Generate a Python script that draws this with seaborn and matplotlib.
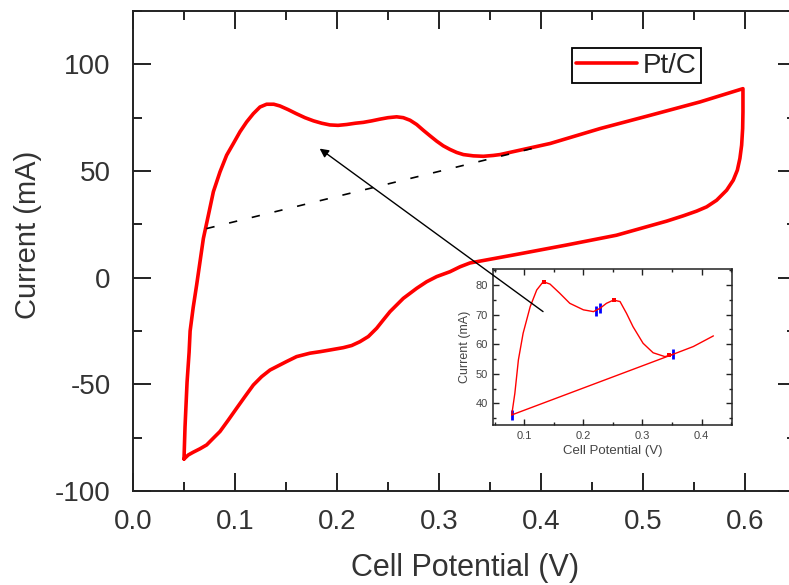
import matplotlib
matplotlib.use("Agg")
import matplotlib.pyplot as plt
import numpy as np
import pandas as pd
import seaborn as sns
from matplotlib.ticker import MultipleLocator, FormatStrFormatter

# ---- main cyclic voltammogram (Pt/C) ----
forward_x = [0.050, 0.051, 0.053, 0.055, 0.056, 0.059, 0.0624, 0.0657, 0.0690, 0.0739,
             0.0788, 0.0853, 0.0918, 0.0984, 0.1049, 0.1114, 0.118, 0.1245, 0.131, 0.138,
             0.144, 0.152, 0.160, 0.1686, 0.177, 0.185, 0.193, 0.201, 0.2095, 0.218,
             0.2258, 0.234, 0.242, 0.250, 0.2585, 0.265, 0.2716, 0.2781, 0.2846, 0.2912,
             0.2977, 0.3042, 0.3108, 0.3173, 0.3239, 0.3337, 0.3435, 0.3533, 0.3598, 0.409,
             0.458, 0.507, 0.556, 0.598]
forward_y = [-85, -70, -49, -35, -25, -14, -3.4, 7.5, 18.4, 29.3,
             40.3, 49.6, 57.4, 62.9, 68.4, 73.0, 76.9, 80.0, 81.3, 81.3,
             80.5, 78.8, 76.9, 75.0, 73.5, 72.4, 71.6, 71.4, 71.8, 72.4,
             72.8, 73.5, 74.3, 75.0, 75.4, 75.0, 73.8, 71.8, 69.1, 66.5,
             64.0, 61.8, 60.1, 58.7, 57.7, 57.1, 56.9, 57.3, 57.7, 62.9,
             69.9, 76.1, 82.4, 88.6]
reverse_x = [0.598, 0.5977, 0.5967, 0.595, 0.5925, 0.5885, 0.582, 0.5722, 0.5624, 0.5526,
             0.5395, 0.5232, 0.474, 0.425, 0.376, 0.3304, 0.3206, 0.3108, 0.2977,
             0.2879, 0.2781, 0.2650, 0.2585, 0.2520, 0.2454, 0.2389, 0.2307, 0.2225, 0.2144,
             0.2062, 0.1931, 0.1833, 0.1735, 0.1604, 0.1506, 0.1408, 0.1343, 0.1261, 0.1180,
             0.1098, 0.1016, 0.0935, 0.0853, 0.0788, 0.0722, 0.0657, 0.0591, 0.0542, 0.0500]
reverse_y = [77.7, 69.9, 62.1, 55.9, 50.4, 45.7, 41.0, 36.3, 33.2, 31.2,
             29.0, 26.5, 19.9, 15.3, 10.9, 6.9, 5.1, 2.8, 0.5,
             -1.9, -5.0, -9.7, -12.8, -15.9, -19.8, -23.7, -27.6, -30.0, -31.8,
             -32.8, -33.9, -34.7, -35.4, -37.0, -39.3, -41.7, -43.3, -46.4, -50.3,
             -55.7, -61.2, -66.7, -72.1, -75.2, -78.4, -80.2, -81.8, -83.1, -85.0]

# dashed baseline in the main plot
baseline_x = [0.072, 0.395]
baseline_y = [23.0, 61.0]

# arrow (tail inside inset -> head near baseline)
arrow_tail = (0.402, -15.9)
arrow_head = (0.183, 60.5)

# ---- inset (zoom of oxidation region) ----
inset_x = [0.0787, 0.084, 0.090, 0.098, 0.110, 0.121, 0.132, 0.1435, 0.160, 0.177,
           0.200, 0.217, 0.228, 0.239, 0.251, 0.262, 0.273, 0.284, 0.301, 0.318,
           0.338, 0.352, 0.386, 0.420]
inset_y = [36.1, 43.4, 54.7, 63.7, 72.7, 78.3, 81.1, 80.3, 77.2, 73.8,
           71.6, 71.0, 72.1, 73.8, 74.9, 74.4, 70.4, 65.9, 60.3, 57.1,
           55.8, 56.6, 59.2, 62.8]
inset_base_x = [0.0787, 0.352]
inset_base_y = [36.1, 56.6]
inset_blue_x = [0.0787, 0.221, 0.228, 0.352]
inset_blue_y = [36.1, 71.2, 72.1, 56.6]
inset_red_x = [0.134, 0.251, 0.345]
inset_red_y = [81.0, 74.9, 56.2]

sns.set_theme(style="ticks")
plt.rcParams["font.family"] = ["Liberation Sans", "DejaVu Sans"]
plt.rcParams["axes.unicode_minus"] = False

fig = plt.figure(figsize=(7.89, 5.85), dpi=100)
ax = fig.add_axes([0.16857, 0.16068, 0.8403, 0.8205])

df = pd.DataFrame({"x": forward_x + reverse_x, "y": forward_y + reverse_y})
sns.lineplot(data=df, x="x", y="y", sort=False, estimator=None, color="#ff0000",
             lw=2.6, label="Pt/C", ax=ax)
sns.lineplot(x=baseline_x, y=baseline_y, sort=False, estimator=None, color="black",
             lw=1.2, linestyle=(0, (5, 9)), ax=ax, legend=False)

ax.set_xlim(0, 0.65)
ax.set_ylim(-100, 125)
ax.xaxis.set_major_locator(MultipleLocator(0.1))
ax.xaxis.set_minor_locator(MultipleLocator(0.05))
ax.yaxis.set_major_locator(MultipleLocator(50))
ax.yaxis.set_minor_locator(MultipleLocator(25))
ax.xaxis.set_major_formatter(FormatStrFormatter("%.1f"))
for s in ax.spines.values():
    s.set_linewidth(1.4)
    s.set_color("#222222")
ax.tick_params(which="both", direction="in", top=True, right=True, width=1.4,
               color="#222222")
ax.tick_params(which="major", length=13, labelsize=20, labelcolor="#333333")
ax.tick_params(which="minor", length=6.5)
ax.tick_params(axis="x", which="major", pad=13)
ax.tick_params(axis="y", which="major", pad=16)
ax.set_xlabel("Cell Potential (V)", fontsize=22, color="#333333")
ax.set_ylabel("Current (mA)", fontsize=21, color="#333333")
ax.xaxis.set_label_coords(0.5008, -0.13)
ax.yaxis.set_label_coords(-0.137, 0.533)

leg = ax.legend(loc="upper right", bbox_to_anchor=(0.856, 0.922), borderaxespad=0,
                fontsize=20, frameon=True, fancybox=False, framealpha=1,
                handlelength=2.2, handletextpad=0.2, borderpad=0.15)
leg.get_frame().set_edgecolor("black")
leg.get_frame().set_linewidth(1.3)

# ---- inset ----
ins = fig.add_axes([0.6252, 0.2735, 0.3022, 0.2662])
ins.set_facecolor("white")
sns.lineplot(x=inset_x, y=inset_y, sort=False, estimator=None, color="#ff0000",
             lw=1.0, ax=ins, legend=False)
sns.lineplot(x=inset_base_x, y=inset_base_y, sort=False, estimator=None,
             color="#ff0000", lw=1.0, ax=ins, legend=False)
sns.scatterplot(x=inset_red_x, y=inset_red_y, color="#ff0000", marker="s", s=10,
                linewidth=0, ax=ins, legend=False)
sns.scatterplot(x=inset_blue_x, y=inset_blue_y, color="#0000ff", marker="|", s=45,
                linewidth=2, ax=ins, legend=False)
ins.set_xlim(0.0475, 0.451)
ins.set_ylim(32.7, 85.3)
ins.xaxis.set_major_locator(MultipleLocator(0.1))
ins.xaxis.set_minor_locator(MultipleLocator(0.05))
ins.yaxis.set_major_locator(MultipleLocator(10))
ins.yaxis.set_minor_locator(MultipleLocator(5))
for s in ins.spines.values():
    s.set_linewidth(1.1)
    s.set_color("#222222")
ins.tick_params(which="both", direction="in", top=True, right=True, width=1.0,
                color="#222222")
ins.tick_params(which="major", length=4.5, labelsize=8, labelcolor="#444444", pad=4)
ins.tick_params(which="minor", length=2.5)
ins.set_xlabel("Cell Potential (V)", fontsize=9.5, color="#444444", labelpad=3)
ins.set_ylabel("Current (mA)", fontsize=9, color="#444444", labelpad=3)

ins.annotate("", xy=arrow_head, xycoords=ax.transData,
             xytext=arrow_tail, textcoords=ax.transData,
             arrowprops=dict(arrowstyle="-|>", color="black", lw=1.0,
                             mutation_scale=13, shrinkA=0, shrinkB=0),
             annotation_clip=False)

fig.savefig("out.png", dpi=100)
